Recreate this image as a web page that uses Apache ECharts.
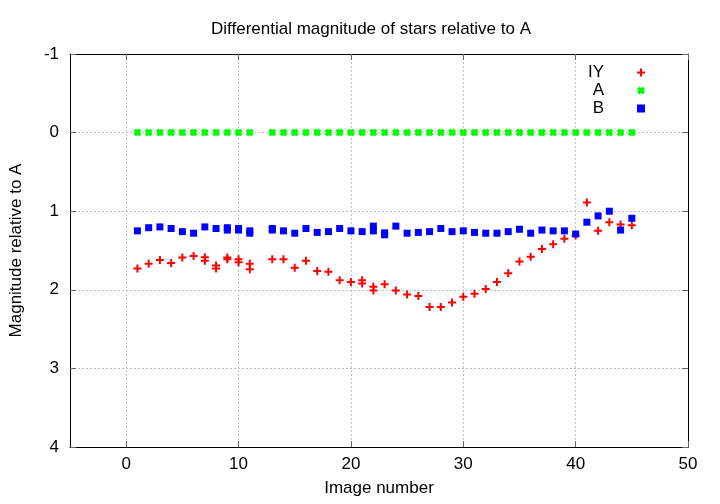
<!DOCTYPE html>
<html>
<head>
<meta charset="utf-8">
<script src="https://cdn.jsdelivr.net/npm/echarts@6/dist/echarts.min.js"></script>
<style>html,body{margin:0;padding:0;background:#fff}#c{width:720px;height:504px}</style>
</head>
<body>
<div id="c"></div>
<script>
// Data
var iyX = [1,2,3,4,5,6,7,7,8,8,9,9,10,10,11,11,13,14,15,16,17,18,19,20,21,21,22,22,23,24,25,26,27,28,29,30,31,32,33,34,35,36,37,38,39,40,41,42,43,44,45];
var iyY = [1.73,1.67,1.62,1.66,1.59,1.57,1.585,1.63,1.69,1.73,1.59,1.61,1.61,1.65,1.67,1.74,1.61,1.61,1.72,1.63,1.76,1.77,1.88,1.90,1.88,1.92,1.96,2.01,1.93,2.01,2.06,2.08,2.22,2.22,2.16,2.09,2.05,1.99,1.90,1.79,1.64,1.58,1.48,1.42,1.35,1.31,0.89,1.25,1.14,1.17,1.18];
var aX = [1,2,3,4,5,6,7,8,9,10,11,13,14,15,16,17,18,19,20,21,22,23,24,25,26,27,28,29,30,31,32,33,34,35,36,37,38,39,40,41,42,43,44,45];
var aY = [0,0,0,0,0,0,0,0,0,0,0,0,0,0,0,0,0,0,0,0,0,0,0,0,0,0,0,0,0,0,0,0,0,0,0,0,0,0,0,0,0,0,0,0];
var bX = [1,2,3,4,5,6,7,8,9,9,10,10,11,11,13,13,14,15,16,17,18,19,20,21,22,22,23,23,24,25,26,27,28,29,30,31,32,33,34,35,36,37,38,39,40,41,42,43,44,45];
var bY = [1.25,1.21,1.20,1.22,1.26,1.28,1.20,1.22,1.21,1.24,1.22,1.24,1.25,1.28,1.22,1.24,1.25,1.28,1.22,1.27,1.26,1.22,1.25,1.26,1.19,1.25,1.275,1.30,1.19,1.28,1.27,1.26,1.22,1.26,1.25,1.27,1.28,1.28,1.26,1.23,1.28,1.24,1.25,1.25,1.29,1.14,1.06,1.00,1.24,1.09];
var xTicks = [0,10,20,30,40,50];
var seriesNames = ['IY','A','B'];

function pairs(xs, ys){ return xs.map(function(x,i){ return [x, ys[i]]; }); }

var font = 'Liberation Sans, Arial, sans-serif';
var fs = 17;
var plusPath = 'path://M3,0 H5 V3 H8 V5 H5 V8 H3 V5 H0 V3 H3 Z';
var crossPath = 'path://M0,2.5 L2.5,0 L4,1.5 L5.5,0 L8,2.5 L6.5,4 L8,5.5 L5.5,8 L4,6.5 L2.5,8 L0,5.5 L1.5,4 Z';
var gridLine = {show:true, lineStyle:{color:'#c0c0c0', width:1, type:[2,2]}};

var chart = echarts.init(document.getElementById('c'), null, {renderer:'canvas'});
chart.setOption({
  animation:false,
  backgroundColor:'#ffffff',
  title:{text:'Differential magnitude of stars relative to A', left:206, top:16,
    textStyle:{fontFamily:font, fontSize:fs, fontWeight:'normal', color:'#000'}},
  legend:{
    orient:'vertical', right:70, top:59, align:'right', itemWidth:8, itemHeight:8, itemGap:1,
    data:seriesNames,
    formatter:function(n){ return '{a|' + n + '}{s| }'; },
    textStyle:{fontFamily:font, fontSize:fs, color:'#000',
      rich:{a:{fontFamily:font, fontSize:fs, color:'#000', width:30, align:'right', lineHeight:17},
            s:{width:28, lineHeight:17}}}
  },
  grid:{left:67, right:32, top:54, bottom:57, containLabel:false},
  xAxis:[{
    type:'value', min:-5, max:50, position:'bottom',
    name:'Image number', nameLocation:'middle', nameGap:33,
    nameTextStyle:{fontFamily:font, fontSize:fs, color:'#000'},
    axisLine:{show:true, onZero:false, lineStyle:{color:'#000', width:1}},
    axisTick:{show:true, inside:true, length:6, customValues:xTicks, lineStyle:{color:'#666'}},
    axisLabel:{show:true, customValues:xTicks, margin:9, fontFamily:font, fontSize:fs, color:'#000'},
    splitLine:gridLine
  },{
    type:'value', min:-5, max:50, position:'top',
    axisLine:{show:true, onZero:false, lineStyle:{color:'#000', width:1}},
    axisTick:{show:true, inside:true, length:6, customValues:xTicks, lineStyle:{color:'#666'}},
    axisLabel:{show:false}, splitLine:{show:false}
  }],
  yAxis:[{
    type:'value', min:-1, max:4, interval:1, inverse:true, position:'left',
    name:'Magnitude relative to A', nameLocation:'middle', nameGap:45,
    nameTextStyle:{fontFamily:font, fontSize:fs, color:'#000'},
    axisLine:{show:true, onZero:false, lineStyle:{color:'#000', width:1}},
    axisTick:{show:true, inside:true, length:6, lineStyle:{color:'#666'}},
    axisLabel:{show:true, margin:11, fontFamily:font, fontSize:fs, color:'#000'},
    splitLine:gridLine
  },{
    type:'value', min:-1, max:4, interval:1, inverse:true, position:'right',
    axisLine:{show:true, onZero:false, lineStyle:{color:'#000', width:1}},
    axisTick:{show:true, inside:true, length:6, lineStyle:{color:'#666'}},
    axisLabel:{show:false}, splitLine:{show:false}
  }],
  series:[
    {name:'IY', type:'scatter', data:pairs(iyX, iyY), symbol:plusPath, symbolSize:8,
      itemStyle:{color:'#ff0000', opacity:1}},
    {name:'A', type:'scatter', data:pairs(aX, aY), symbol:crossPath, symbolSize:8,
      itemStyle:{color:'#00ff00', opacity:1}},
    {name:'B', type:'scatter', data:pairs(bX, bY), symbol:'rect', symbolSize:7,
      itemStyle:{color:'#0000ff', opacity:1}}
  ]
});
</script>
</body>
</html>
